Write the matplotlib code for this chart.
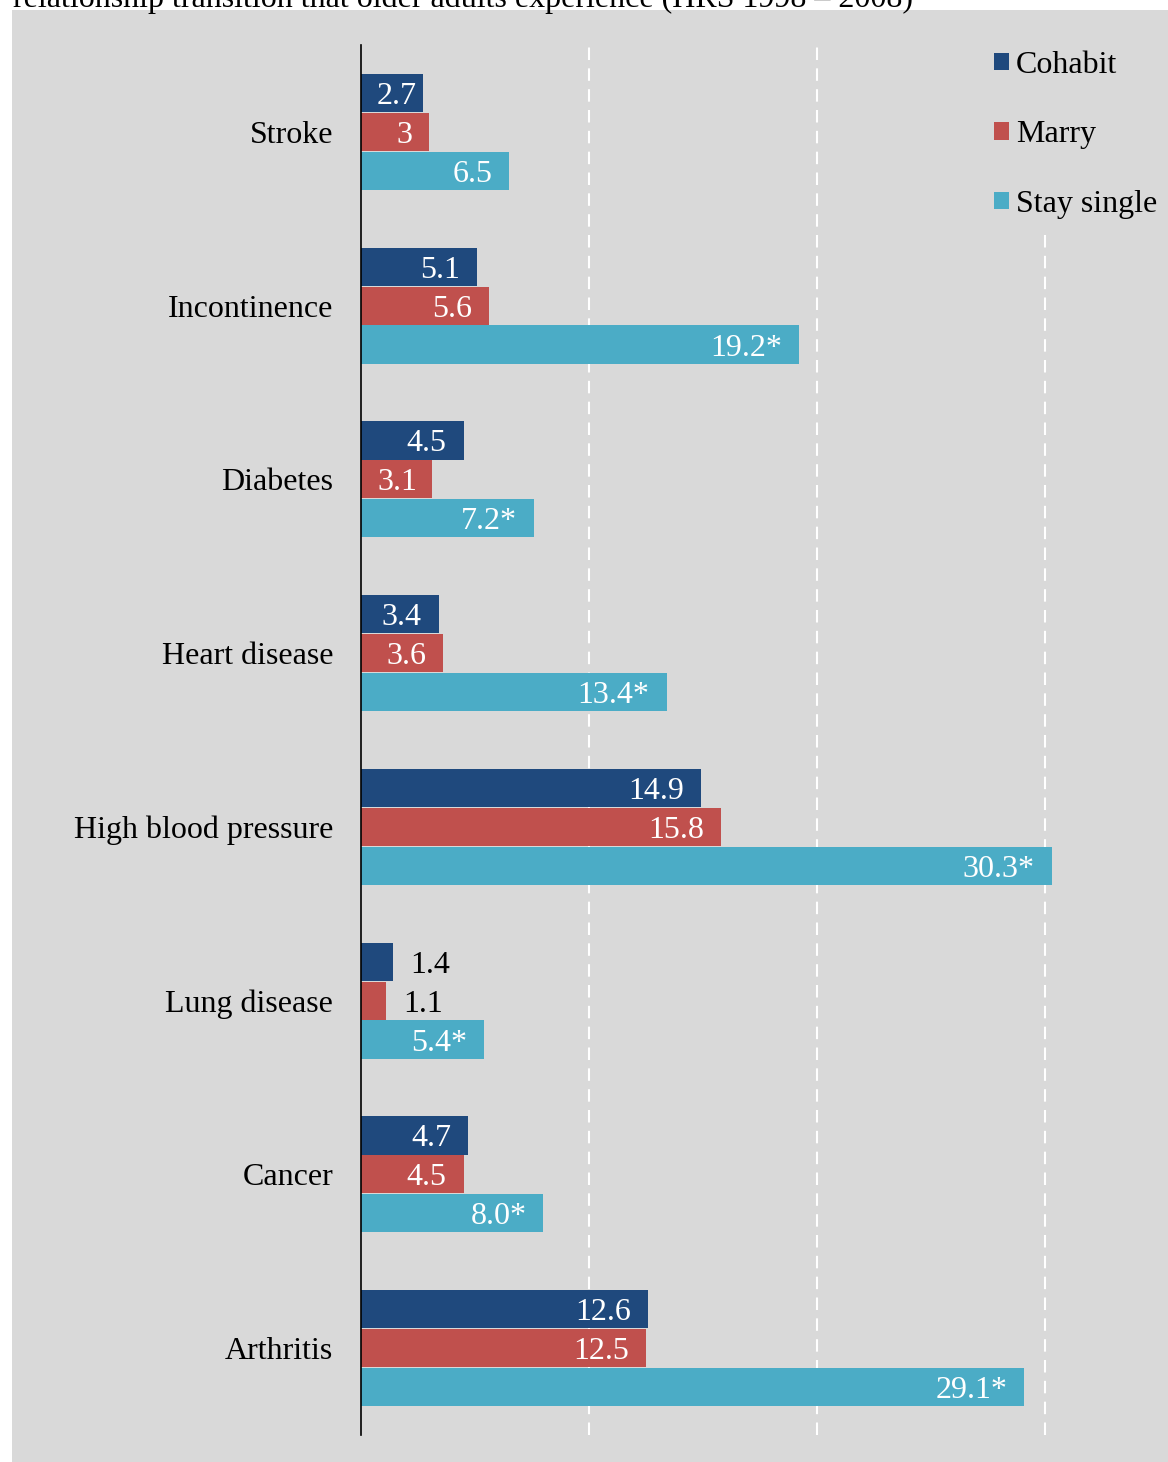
import matplotlib
matplotlib.use("Agg")
import matplotlib.pyplot as plt
from matplotlib.patches import Rectangle, Patch
import numpy as np

plt.rcParams['font.family'] = ['Liberation Serif', 'DejaVu Serif']

categories = ["Stroke", "Incontinence", "Diabetes", "Heart disease",
              "High blood pressure", "Lung disease", "Cancer", "Arthritis"]
cohabit = [2.7, 5.1, 4.5, 3.4, 14.9, 1.4, 4.7, 12.6]
marry = [3.0, 5.6, 3.1, 3.6, 15.8, 1.1, 4.5, 12.5]
# bar lengths as drawn in the source (the diabetes bar is longer than its label)
single = [6.5, 19.2, 7.6, 13.4, 30.3, 5.4, 8.0, 29.1]
cohabit_lbl = ["2.7", "5.1", "4.5", "3.4", "14.9", "1.4", "4.7", "12.6"]
marry_lbl = ["3", "5.6", "3.1", "3.6", "15.8", "1.1", "4.5", "12.5"]
single_lbl = ["6.5", "19.2*", "7.2*", "13.4*", "30.3*", "5.4*", "8.0*", "29.1*"]
series = ["Cohabit", "Marry", "Stay single"]
colors = ["#1F497D", "#C0504D", "#4BACC6"]
caption = "relationship transition that older adults experience (HRS 1998 \u2013 2008)"

W, H = 1168, 1462
FS = 23
fig = plt.figure(figsize=(W / 100, H / 100), dpi=100)
fig.patches.append(Rectangle((12 / W, 0), 1 - 12 / W, 1 - 10 / H,
                             transform=fig.transFigure, facecolor="#D9D9D9",
                             edgecolor="none", zorder=-10))
# caption of the source figure, cut off by the top edge as in the original
fig.text(13 / W, 1 - 7 / H, caption, fontsize=FS, va="baseline", ha="left")

ax = fig.add_axes([361 / W, 1 - 1435 / H, (1159 - 361) / W, (1435 - 45) / H])
ax.set_facecolor("none")

y = np.arange(len(categories))
bh = 0.224
offsets = [-bh, 0, bh]
data = [cohabit, marry, single]
labels = [cohabit_lbl, marry_lbl, single_lbl]

for vals, off, col, name in zip(data, offsets, colors, series):
    ax.barh(y + off, vals, height=bh * 0.98, color=col, label=name, zorder=3)

ax.set_xlim(0, 35)
ax.set_ylim(7.5, -0.5)
for gx in [10, 20, 30]:
    ax.axvline(gx, color="white", lw=1.5, ls=(0, (6, 4)), zorder=1)

ax.set_yticks(y)
ax.set_yticklabels(categories, fontsize=FS)
ax.tick_params(axis="y", length=0, pad=20)
ax.set_xticks([])
for s in ["top", "right", "bottom"]:
    ax.spines[s].set_visible(False)
ax.spines["left"].set_linewidth(1.2)
ax.spines["left"].set_zorder(5)

fig.canvas.draw()
renderer = fig.canvas.get_renderer()
px_per_unit = ax.transData.transform((1, 0))[0] - ax.transData.transform((0, 0))[0]

for vals, lbls, off in zip(data, labels, offsets):
    for i, (v, l) in enumerate(zip(vals, lbls)):
        t = ax.text(0, i + off, l, fontsize=FS, va="center_baseline", ha="right",
                    color="white", zorder=4)
        tw = t.get_window_extent(renderer).width
        bar_px = v * px_per_unit
        if bar_px < tw + 10:
            # too short: label outside in black
            t.set_position((v + 17 / px_per_unit, i + off))
            t.set_ha("left")
            t.set_color("black")
        elif bar_px - 17 - tw < 16:
            t.set_position((16 / px_per_unit, i + off))
            t.set_ha("left")
        else:
            t.set_position((v - 17 / px_per_unit, i + off))

handles = [Patch(facecolor=c, edgecolor="none") for c in colors]
leg = ax.legend(handles, series, loc="upper right",
                bbox_to_anchor=(1170 / W, 1 - 38 / H),
                bbox_transform=fig.transFigure, fontsize=FS,
                handlelength=0.48, handleheight=0.48, handletextpad=0.22,
                labelspacing=1.27, borderpad=0.4, borderaxespad=0,
                facecolor="#D9D9D9", edgecolor="none", framealpha=1,
                fancybox=False)
leg.set_zorder(6)

fig.savefig("out.png", dpi=100)
